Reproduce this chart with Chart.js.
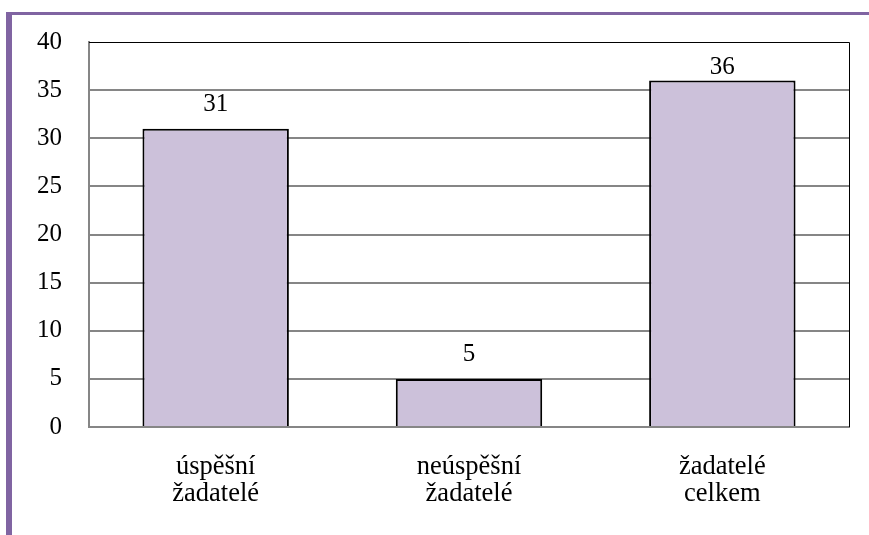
<!DOCTYPE html>
<html>
<head>
<meta charset="utf-8">
<script src="https://cdn.jsdelivr.net/npm/chart.js@4/dist/chart.umd.min.js"></script>
<style>
  html, body { margin: 0; padding: 0; background: #fff; }
  #wrap { position: relative; width: 869px; height: 535px; overflow: hidden; }
  #frame {
    position: absolute; left: 6px; top: 12px; width: 870px; height: 540px;
    border-left: 6px solid #8064A2; border-top: 3px solid #8064A2;
  }
  #c { position: absolute; left: 0; top: 0; }
</style>
</head>
<body>
<div id="wrap">
  <div id="frame"></div>
  <canvas id="c" width="869" height="535"></canvas>
</div>
<script>
const categories = [['úspěšní', 'žadatelé'], ['neúspěšní', 'žadatelé'], ['žadatelé', 'celkem']];
const values = [31, 5, 36];
const yTicks = [0, 5, 10, 15, 20, 25, 30, 35, 40];

const serif = "'Liberation Serif', 'Times New Roman', serif";

const valueLabels = {
    id: 'valueLabels',
    afterDatasetsDraw(chart) {
        const ctx = chart.ctx;
        const area = chart.chartArea;
        ctx.save();
        ctx.font = '25px ' + serif;
        ctx.fillStyle = '#000';
        ctx.textAlign = 'center';
        ctx.textBaseline = 'bottom';
        chart.getDatasetMeta(0).data.forEach((bar, i) => {
            let y = bar.y - 12;
            if (y - 18 < area.top + 16) y = area.top + 38;
            ctx.fillText(String(values[i]), bar.x, y);
        });
        ctx.restore();
    }
};

const plotFrame = {
    id: 'plotFrame',
    afterDraw(chart) {
        const ctx = chart.ctx;
        const a = chart.chartArea;
        ctx.save();
        ctx.strokeStyle = '#000';
        ctx.lineWidth = 1;
        ctx.beginPath();
        ctx.moveTo(a.left, a.top + 0.5);
        ctx.lineTo(a.right + 0.5, a.top + 0.5);
        ctx.lineTo(a.right + 0.5, a.bottom);
        ctx.stroke();
        ctx.restore();
    }
};

new Chart(document.getElementById('c'), {
    type: 'bar',
    data: {
        labels: categories,
        datasets: [{
            data: values,
            backgroundColor: '#CCC1DA',
            borderColor: '#000',
            borderWidth: 2,
            borderSkipped: 'bottom',
            barPercentage: 0.578,
            categoryPercentage: 1
        }]
    },
    options: {
        responsive: false,
        animation: false,
        layout: { padding: { left: 0, right: 20, top: 41, bottom: 0 } },
        plugins: { legend: { display: false }, tooltip: { enabled: false } },
        scales: {
            x: {
                grid: { display: false, drawTicks: false },
                border: { color: '#868686', width: 2 },
                ticks: {
                    color: '#000',
                    padding: 27,
                    maxRotation: 0,
                    font: { family: serif, size: 26.5, lineHeight: 1.0 }
                },
                afterFit: (s) => { s.height = 108; }
            },
            y: {
                min: 0,
                max: 40,
                afterBuildTicks: (s) => { s.ticks = yTicks.map(v => ({ value: v })); },
                grid: {
                    drawTicks: false,
                    color: (c) => c.tick && c.tick.value === 40 ? '#000' : '#868686',
                    lineWidth: (c) => c.tick && c.tick.value === 40 ? 1 : 2
                },
                border: { color: '#868686', width: 2 },
                ticks: {
                    color: '#000',
                    padding: 27,
                    font: { family: serif, size: 25 }
                },
                afterFit: (s) => { s.width = 89; }
            }
        }
    },
    plugins: [valueLabels, plotFrame]
});
</script>
</body>
</html>
